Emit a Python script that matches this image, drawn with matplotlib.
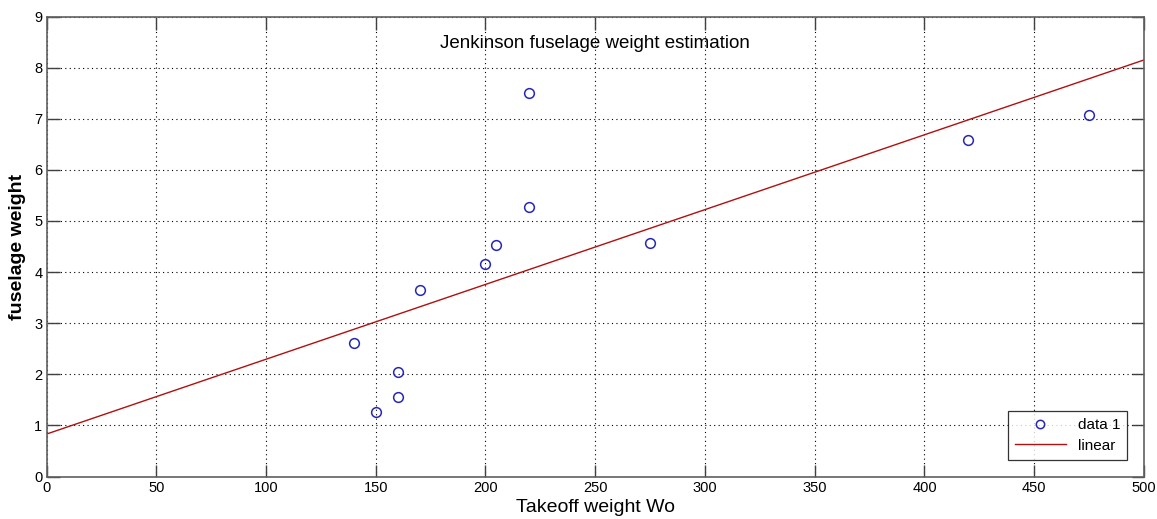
import matplotlib
matplotlib.use("Agg")
import matplotlib.pyplot as plt

# Data
takeoff_weight = [140, 150, 160, 160, 170, 200, 205, 220, 220, 275, 420, 475]
fuselage_weight = [2.61, 1.26, 2.05, 1.56, 3.65, 4.16, 4.53, 7.50, 5.27, 4.57, 6.58, 7.07]
line_x = [0, 500]
line_y = [0.83, 8.15]
x_ticks = list(range(0, 501, 50))
y_ticks = list(range(0, 10))

plt.rcParams['font.family'] = ['Liberation Sans', 'DejaVu Sans']

fig = plt.figure(figsize=(11.57, 5.19), dpi=100)
W, H = 1157, 519
left, right, top, bottom = 46.5, 1144, 16.5, 476.5
ax = fig.add_axes([left / W, 1 - bottom / H, (right - left) / W, (bottom - top) / H])

ax.plot(takeoff_weight, fuselage_weight, linestyle='none', marker='o', markersize=7,
        markerfacecolor='none', markeredgecolor='#2828b8', markeredgewidth=1.1, label='data 1')
ax.plot(line_x, line_y, color='#b01010', linewidth=1.0, label='linear')

ax.set_xlim(0, 500)
ax.set_ylim(0, 9)
ax.set_xticks(x_ticks)
ax.set_yticks(y_ticks)
ax.grid(True, linestyle=(0, (1, 3)), color='black', linewidth=0.8)
ax.tick_params(direction='in', length=9, width=1, top=True, right=True,
               labelsize=10.5, colors='#404040', labelcolor='black', pad=3)
for s in ax.spines.values():
    s.set_color('#606060')
    s.set_linewidth(1.2)

ax.text(0.5, 0.942, 'Jenkinson fuselage weight estimation', transform=ax.transAxes,
        ha='center', va='center', fontsize=13.5)
ax.set_xlabel('Takeoff weight Wo', fontsize=14, labelpad=3)
ax.set_ylabel('fuselage weight', fontsize=14, fontweight='bold', labelpad=6)

leg = ax.legend(loc='lower right', fontsize=11, frameon=True, fancybox=False,
                edgecolor='black', borderaxespad=1.1, handlelength=3.3,
                markerfirst=True, borderpad=0.45, labelspacing=0.45)
leg.get_frame().set_linewidth(0.9)
for h in leg.legend_handles:
    h.set_markersize(6)

fig.savefig('out.png', dpi=100)
